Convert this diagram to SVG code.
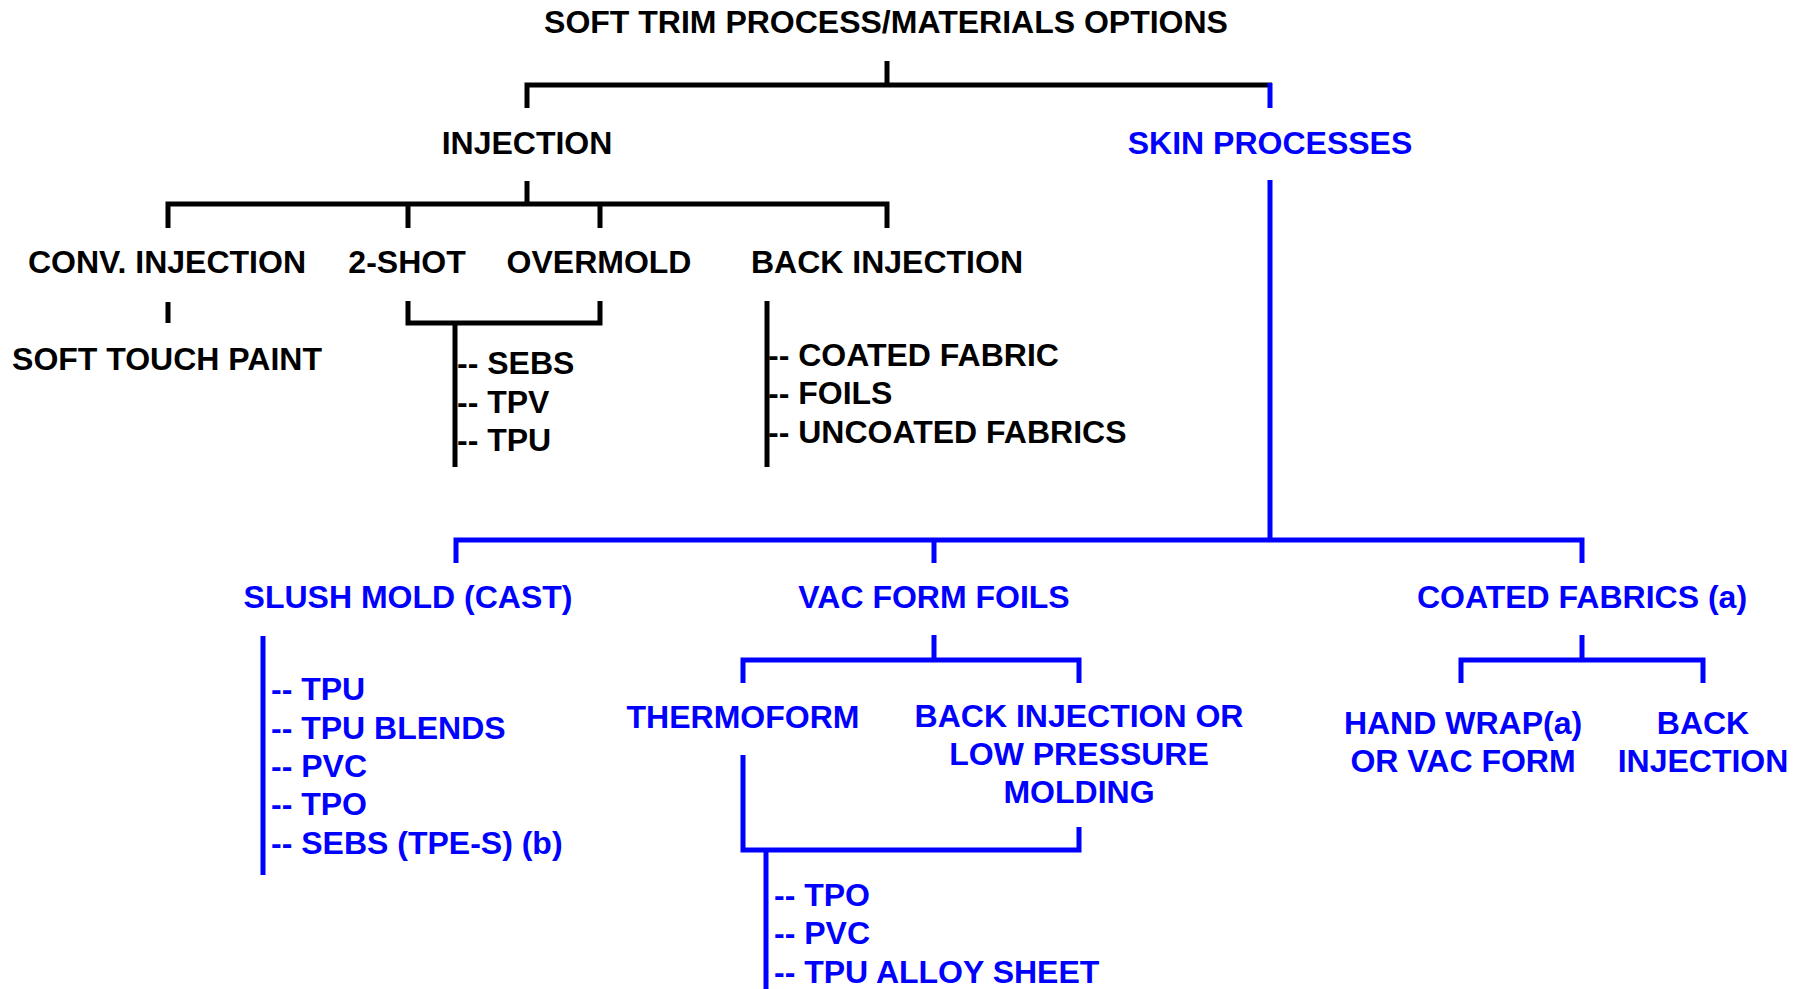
<svg xmlns="http://www.w3.org/2000/svg" width="1801" height="989" viewBox="0 0 1801 989">
<style>
text{font-family:"Liberation Sans",Arial,sans-serif;font-weight:bold;font-size:32px}
.c{text-anchor:middle}
.k{fill:#000}
.b{fill:#0000FF}
.lk{fill:none;stroke:#000;stroke-width:5}
.lb{fill:none;stroke:#0000FF;stroke-width:5}
</style>
<rect width="1801" height="989" fill="#fff"/>
<g id="connectors">
<path class="lk" d="M887 61V85M527 108V85H1272M527 181V204M168 228V204H887V228M408 204V228M600 204V228M168 302V323M408 301V323H600V301M455 323V467M767 301V467"/>
<path class="lb" d="M1270 83V108M1270 180V540M456 563V540H1582V563M934 540V563M263 636V875M934 635V660M743 683V660H1079V683M743 755V850H1079V827M766 850V989M1582 635V660M1461 683V660H1703V683"/>
</g>
<g id="title"><text class="c k" x="886" y="33">SOFT TRIM PROCESS/MATERIALS OPTIONS</text></g>
<g id="injection"><text class="c k" x="527" y="154">INJECTION</text></g>
<g id="skin"><text class="c b" x="1270" y="154">SKIN PROCESSES</text></g>
<g id="conv"><text class="c k" x="167" y="273">CONV. INJECTION</text></g>
<g id="twoshot"><text class="c k" x="407" y="273">2-SHOT</text></g>
<g id="overmold"><text class="c k" x="599" y="273">OVERMOLD</text></g>
<g id="backinj"><text class="c k" x="887" y="273">BACK INJECTION</text></g>
<g id="softtouch"><text class="c k" x="167" y="370">SOFT TOUCH PAINT</text></g>
<g id="list2shot" class="k"><text x="457" y="374">-- SEBS</text><text x="457" y="413">-- TPV</text><text x="457" y="451">-- TPU</text></g>
<g id="listback"><text class="k" x="768" y="366">-- COATED FABRIC</text><text class="k" x="768" y="404">-- FOILS</text><text class="k" x="768" y="443">-- UNCOATED FABRICS</text></g>
<g id="slush"><text class="c b" x="408" y="608">SLUSH MOLD (CAST)</text></g>
<g id="vacfoils"><text class="c b" x="934" y="608">VAC FORM FOILS</text></g>
<g id="coated"><text class="c b" x="1582" y="608">COATED FABRICS (a)</text></g>
<g id="listslush"><text class="b" x="271" y="700">-- TPU</text><text class="b" x="271" y="739">-- TPU BLENDS</text><text class="b" x="271" y="777">-- PVC</text><text class="b" x="271" y="815">-- TPO</text><text class="b" x="271" y="854">-- SEBS (TPE-S) (b)</text></g>
<g id="thermoform"><text class="c b" x="743" y="728">THERMOFORM</text></g>
<g id="backlow"><text class="c b" x="1079" y="727">BACK INJECTION OR</text><text class="c b" x="1079" y="765">LOW PRESSURE</text><text class="c b" x="1079" y="803">MOLDING</text></g>
<g id="listvac"><text class="b" x="774" y="906">-- TPO</text><text class="b" x="774" y="944">-- PVC</text><text class="b" x="774" y="983">-- TPU ALLOY SHEET</text></g>
<g id="handwrap"><text class="c b" x="1463" y="734">HAND WRAP(a)</text><text class="c b" x="1463" y="772">OR VAC FORM</text></g>
<g id="backinj2"><text class="c b" x="1703" y="734">BACK</text><text class="c b" x="1703" y="772">INJECTION</text></g>
</svg>
